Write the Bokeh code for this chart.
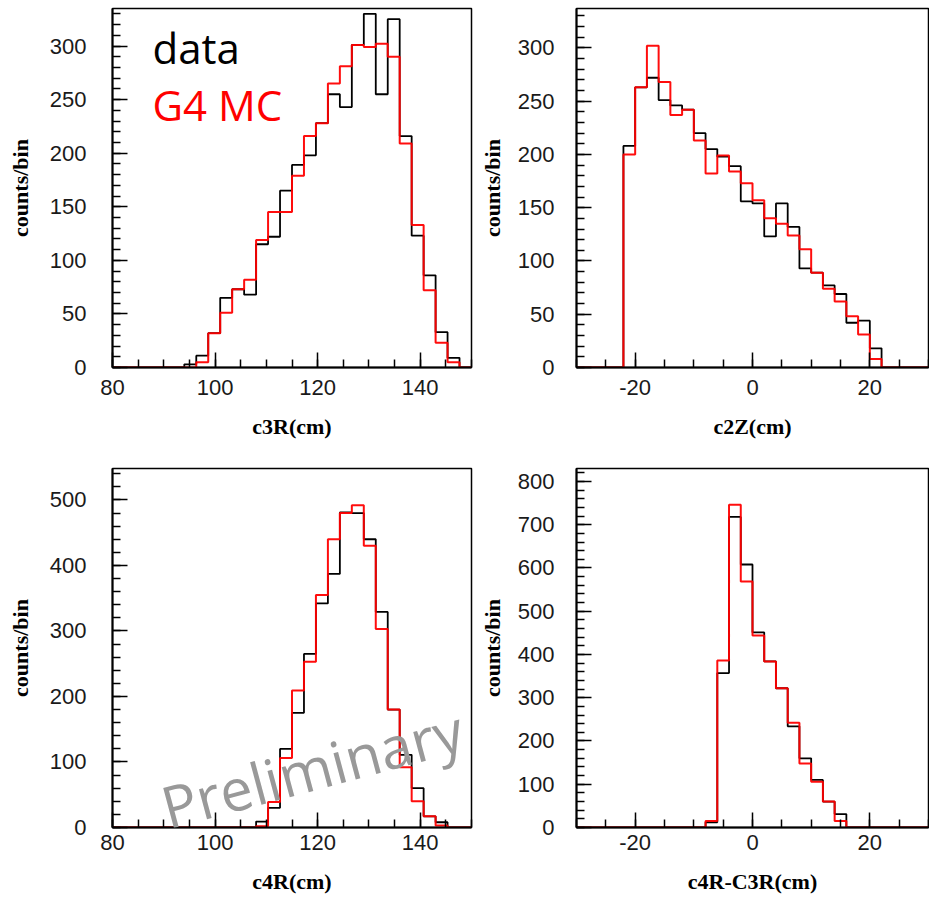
import numpy as np
from bokeh.plotting import figure
from bokeh.layouts import column, row
from bokeh.models import SingleIntervalTicker, Label, Range1d, PrintfTickFormatter
from bokeh.embed import file_html
from bokeh.resources import INLINE

# ---------------- data (counts per bin, 30 bins each) ----------------
r_lo, r_hi = 80, 150          # c3R / c4R axis range (cm)
z_lo, z_hi = -30, 30          # c2Z / c4R-C3R axis range (cm)
nbins = 30

c3r_data = [0, 0, 0, 0, 0, 0, 3, 11, 32, 65, 73, 68, 115, 122, 165, 189, 198, 228,
            255, 243, 301, 330, 255, 325, 216, 123, 86, 33, 9, 0]
c3r_mc = [0, 0, 0, 0, 0, 0, 0, 5, 32, 51, 73, 82, 119, 145, 145, 179, 216, 228,
          265, 281, 301, 299, 302, 290, 209, 133, 72, 23, 5, 0]

c2z_data = [0, 0, 0, 0, 208, 263, 272, 251, 246, 242, 220, 205, 198, 189, 156, 154,
            123, 154, 132, 93, 89, 77, 69, 42, 44, 18, 0, 0, 0, 0]
c2z_mc = [0, 0, 0, 0, 200, 263, 302, 268, 237, 242, 213, 182, 199, 184, 173, 157,
          140, 135, 124, 111, 89, 74, 62, 48, 31, 8, 0, 0, 0, 0]

c4r_data = [0, 0, 0, 0, 0, 0, 0, 0, 0, 0, 0, 0, 9, 30, 120, 175, 265, 342, 387, 481,
            480, 440, 329, 180, 111, 60, 17, 8, 0, 0]
c4r_mc = [0, 0, 0, 0, 0, 0, 0, 0, 0, 0, 0, 0, 2, 39, 106, 209, 253, 355, 440, 480,
          492, 430, 303, 180, 92, 40, 17, 3, 0, 0]

d43_data = [0, 0, 0, 0, 0, 0, 0, 0, 0, 0, 0, 12, 357, 718, 608, 451, 384, 322, 234,
            160, 110, 60, 31, 0, 0, 0, 0, 0, 0, 0]
d43_mc = [0, 0, 0, 0, 0, 0, 0, 0, 0, 0, 0, 15, 386, 746, 569, 444, 384, 322, 242,
          148, 106, 60, 15, 0, 0, 0, 0, 0, 0, 0]

x_titles = ["c3R(cm)", "c2Z(cm)", "c4R(cm)", "c4R-C3R(cm)"]
y_title = "counts/bin"
y_max = [335, 337, 548, 830]
y_major = [50, 50, 100, 100]

TICK_FONT = "Liberation Sans"
TITLE_FONT = "Liberation Serif"


def panel(width, height, xr, ymax, ymaj, xtitle, data, mc, borders,
          xl_standoff, xt_standoff, yl_standoff, yt_standoff):
    left, right, top, bottom = borders
    p = figure(width=width, height=height, x_range=Range1d(*xr),
               y_range=Range1d(0, ymax), output_backend="svg",
               toolbar_location=None, min_border_left=left,
               min_border_right=right, min_border_top=top,
               min_border_bottom=bottom)
    p.xgrid.visible = False
    p.ygrid.visible = False
    p.background_fill_color = "white"
    p.border_fill_color = "white"
    p.outline_line_color = "black"
    p.outline_line_width = 1.5
    p.outline_line_alpha = 1.0

    edges = np.linspace(xr[0], xr[1], nbins + 1)
    d = np.append(np.array(data, float), data[-1])
    m = np.append(np.array(mc, float), mc[-1])
    p.step(edges, d, mode="after", line_color="black", line_width=1.8)
    p.step(edges, m, mode="after", line_color="#ff0000", line_width=2.0,
           line_alpha=0.95)

    p.xaxis.ticker = SingleIntervalTicker(interval=20, num_minor_ticks=4)
    p.yaxis.ticker = SingleIntervalTicker(interval=ymaj, num_minor_ticks=5)
    p.xaxis.formatter = PrintfTickFormatter(format="%d")
    for ax in (p.xaxis[0], p.yaxis[0]):
        ax.major_tick_in = 15
        ax.major_tick_out = 0
        ax.minor_tick_in = 8
        ax.minor_tick_out = 0
        ax.major_tick_line_width = 1.5
        ax.minor_tick_line_width = 1.5
        ax.major_tick_line_color = "black"
        ax.minor_tick_line_color = "black"
        ax.axis_line_width = 2
        ax.axis_line_color = "black"
        ax.major_label_text_font = TICK_FONT
        ax.major_label_text_font_size = "22px"
        ax.major_label_text_color = "#1a1a1a"
        ax.axis_label_text_font = TITLE_FONT
        ax.axis_label_text_font_style = "bold"
        ax.axis_label_text_font_size = "22px"
        ax.axis_label_text_color = "black"
    p.xaxis.axis_label = xtitle
    p.yaxis.axis_label = y_title
    p.xaxis.major_label_standoff = xl_standoff
    p.xaxis.axis_label_standoff = xt_standoff
    p.yaxis.major_label_standoff = yl_standoff
    p.yaxis.axis_label_standoff = yt_standoff
    return p


W1, W2 = 476, 453
H1, H2 = 455, 446

p1 = panel(W1, H1, (r_lo, r_hi), y_max[0], y_major[0], x_titles[0], c3r_data, c3r_mc,
           (112, 5, 8, 88), 12, 16, 26, 14)
p2 = panel(W2, H1, (z_lo, z_hi), y_max[1], y_major[1], x_titles[1], c2z_data, c2z_mc,
           (98, 1, 8, 88), 12, 16, 22, 10)
p3 = panel(W1, H2, (r_lo, r_hi), y_max[2], y_major[2], x_titles[2], c4r_data, c4r_mc,
           (112, 5, 13, 74), 7, 16, 26, 14)
p4 = panel(W2, H2, (z_lo, z_hi), y_max[3], y_major[3], x_titles[3], d43_data, d43_mc,
           (98, 1, 13, 74), 7, 16, 22, 10)

p1.add_layout(Label(x=87.8, y=299, text="data", text_font="Open Sans",
                    text_font_size="42px", text_color="black",
                    text_baseline="alphabetic"))
p1.add_layout(Label(x=87.8, y=245, text="G4 MC", text_font="Open Sans",
                    text_font_size="42px", text_color="#ff0000",
                    text_baseline="alphabetic"))

p3.add_layout(Label(x=89.8, y=30, text="Preliminary", text_font="Open Sans",
                    text_font_size="58px", text_color="#999999",
                    text_baseline="alphabetic", angle=np.deg2rad(15)))

layout = column(row(p1, p2, spacing=0), row(p3, p4, spacing=0), spacing=0)

with open("out.html", "w") as f:
    f.write(file_html(layout, INLINE))
